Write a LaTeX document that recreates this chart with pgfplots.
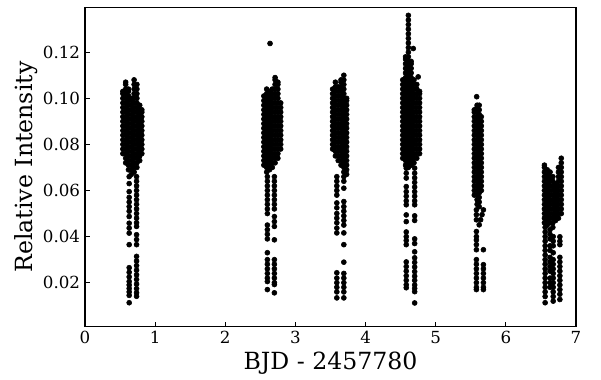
\documentclass[border=0pt]{standalone}
\usepackage{pgfplots}
\pgfplotsset{compat=1.18}
\usepackage{fontspec}
\setmainfont{DejaVu Serif}
\pgfplotsset{dots/.style={only marks, mark=*, mark size=1.8pt, draw=black, fill=black, mark options={draw=black, fill=black}}}
\begin{document}
\begin{tikzpicture}
\begin{axis}[name=ax, scale only axis, width=353.52pt, height=229.97pt,
  xmin=0, xmax=7, ymin=0.0009, ymax=0.1395,
  xtick={0,1,2,3,4,5,6,7}, ytick={0.02,0.04,0.06,0.08,0.10,0.12},
  scaled y ticks=false,
  tick align=inside, tick pos=left, major tick length=3.5pt,
  axis line style={line width=0.8pt, black},
  every tick/.style={black, line width=0.8pt},
  /pgf/number format/assume math mode=true,
  yticklabel style={/pgf/number format/.cd, fixed, fixed zerofill, precision=2},
  ticklabel style={font=\fontsize{12}{14}\selectfont},
  xlabel={BJD - 2457780}, ylabel={Relative Intensity},
  label style={font=\fontsize{17}{20}\selectfont},
  xlabel style={at={(axis description cs:0.5,-0.113)}, anchor=center},
  ylabel style={at={(axis description cs:-0.12,0.5)}, anchor=center},
]
% cluster 1 core
\addplot[dots] coordinates {
(0.54,0.076)(0.54,0.078)(0.54,0.080)(0.54,0.082)(0.54,0.084)(0.54,0.086)(0.54,0.088)(0.54,0.090)(0.54,0.092)(0.54,0.094)(0.54,0.096)(0.54,0.098)(0.54,0.100)(0.54,0.102)(0.54,0.103)
(0.58,0.072)(0.58,0.074)(0.58,0.076)(0.58,0.078)(0.58,0.080)(0.58,0.082)(0.58,0.084)(0.58,0.086)(0.58,0.088)(0.58,0.090)(0.58,0.092)(0.58,0.094)(0.58,0.096)(0.58,0.098)(0.58,0.100)(0.58,0.102)(0.58,0.104)(0.58,0.106)(0.58,0.107)
(0.62,0.069)(0.62,0.071)(0.62,0.073)(0.62,0.075)(0.62,0.077)(0.62,0.079)(0.62,0.081)(0.62,0.083)(0.62,0.085)(0.62,0.087)(0.62,0.089)(0.62,0.091)(0.62,0.093)(0.62,0.095)(0.62,0.097)(0.62,0.099)(0.62,0.101)(0.62,0.103)(0.62,0.104)
(0.66,0.067)(0.66,0.069)(0.66,0.071)(0.66,0.073)(0.66,0.075)(0.66,0.077)(0.66,0.079)(0.66,0.081)(0.66,0.083)(0.66,0.085)(0.66,0.087)(0.66,0.089)(0.66,0.091)(0.66,0.093)(0.66,0.095)(0.66,0.097)(0.66,0.099)(0.66,0.100)
(0.70,0.068)(0.70,0.070)(0.70,0.072)(0.70,0.074)(0.70,0.076)(0.70,0.078)(0.70,0.080)(0.70,0.082)(0.70,0.084)(0.70,0.086)(0.70,0.088)(0.70,0.090)(0.70,0.092)(0.70,0.094)(0.70,0.096)(0.70,0.098)(0.70,0.100)(0.70,0.102)(0.70,0.104)(0.70,0.106)(0.70,0.108)
(0.74,0.070)(0.74,0.072)(0.74,0.074)(0.74,0.076)(0.74,0.078)(0.74,0.080)(0.74,0.082)(0.74,0.084)(0.74,0.086)(0.74,0.088)(0.74,0.090)(0.74,0.092)(0.74,0.094)(0.74,0.096)(0.74,0.098)(0.74,0.100)(0.74,0.102)(0.74,0.104)(0.74,0.106)
(0.78,0.073)(0.78,0.075)(0.78,0.077)(0.78,0.079)(0.78,0.081)(0.78,0.083)(0.78,0.085)(0.78,0.087)(0.78,0.089)(0.78,0.091)(0.78,0.093)(0.78,0.095)(0.78,0.097)
(0.81,0.076)(0.81,0.078)(0.81,0.080)(0.81,0.082)(0.81,0.084)(0.81,0.086)(0.81,0.088)(0.81,0.090)(0.81,0.092)(0.81,0.094)(0.81,0.095)
};
% cluster 1 sparse
\addplot[dots] coordinates {
(0.63,0.066)(0.63,0.063)(0.63,0.0595)(0.63,0.057)(0.63,0.055)(0.63,0.053)(0.63,0.051)(0.63,0.0487)(0.63,0.0458)(0.63,0.0437)(0.63,0.0415)(0.63,0.0365)(0.63,0.0265)(0.63,0.0245)(0.63,0.0225)(0.63,0.0205)(0.63,0.019)(0.63,0.0175)(0.63,0.016)(0.63,0.0145)(0.63,0.0113)
(0.735,0.066)(0.735,0.064)(0.735,0.062)(0.735,0.060)(0.735,0.058)(0.735,0.056)(0.735,0.054)(0.735,0.052)(0.735,0.050)(0.735,0.048)(0.735,0.046)(0.735,0.0444)(0.735,0.0408)(0.735,0.0387)(0.735,0.0365)(0.735,0.0314)(0.735,0.0294)(0.735,0.0274)(0.735,0.0254)(0.735,0.0234)(0.735,0.0214)(0.735,0.0194)(0.735,0.0174)(0.735,0.0156)(0.735,0.0141)
};
% cluster 2 core
\addplot[dots] coordinates {
(2.55,0.071)(2.55,0.073)(2.55,0.075)(2.55,0.077)(2.55,0.079)(2.55,0.081)(2.55,0.083)(2.55,0.085)(2.55,0.087)(2.55,0.089)(2.55,0.091)(2.55,0.093)(2.55,0.095)(2.55,0.097)(2.55,0.099)(2.55,0.101)
(2.59,0.068)(2.59,0.070)(2.59,0.072)(2.59,0.074)(2.59,0.076)(2.59,0.078)(2.59,0.080)(2.59,0.082)(2.59,0.084)(2.59,0.086)(2.59,0.088)(2.59,0.090)(2.59,0.092)(2.59,0.094)(2.59,0.096)(2.59,0.098)(2.59,0.100)(2.59,0.102)(2.59,0.104)
(2.63,0.069)(2.63,0.071)(2.63,0.073)(2.63,0.075)(2.63,0.077)(2.63,0.079)(2.63,0.081)(2.63,0.083)(2.63,0.085)(2.63,0.087)(2.63,0.089)(2.63,0.091)(2.63,0.093)(2.63,0.095)(2.63,0.097)(2.63,0.099)(2.63,0.101)(2.63,0.103)
(2.67,0.070)(2.67,0.072)(2.67,0.074)(2.67,0.076)(2.67,0.078)(2.67,0.080)(2.67,0.082)(2.67,0.084)(2.67,0.086)(2.67,0.088)(2.67,0.090)(2.67,0.092)(2.67,0.094)(2.67,0.096)(2.67,0.098)(2.67,0.100)(2.67,0.102)(2.67,0.104)
(2.71,0.072)(2.71,0.074)(2.71,0.076)(2.71,0.078)(2.71,0.080)(2.71,0.082)(2.71,0.084)(2.71,0.086)(2.71,0.088)(2.71,0.090)(2.71,0.092)(2.71,0.094)(2.71,0.096)(2.71,0.098)(2.71,0.100)(2.71,0.102)(2.71,0.104)(2.71,0.106)(2.71,0.108)(2.71,0.109)
(2.75,0.074)(2.75,0.076)(2.75,0.078)(2.75,0.080)(2.75,0.082)(2.75,0.084)(2.75,0.086)(2.75,0.088)(2.75,0.090)(2.75,0.092)(2.75,0.094)(2.75,0.096)(2.75,0.098)(2.75,0.100)(2.75,0.102)(2.75,0.104)(2.75,0.106)(2.75,0.107)
(2.79,0.078)(2.79,0.080)(2.79,0.082)(2.79,0.084)(2.79,0.086)(2.79,0.088)(2.79,0.090)(2.79,0.092)(2.79,0.094)(2.79,0.096)(2.79,0.098)
(2.638,0.1238)
};
% cluster 2 sparse
\addplot[dots] coordinates {
(2.60,0.066)(2.60,0.064)(2.60,0.062)(2.60,0.060)(2.60,0.058)(2.60,0.056)(2.60,0.054)(2.60,0.052)(2.60,0.050)(2.60,0.045)(2.60,0.043)(2.60,0.041)(2.60,0.039)(2.60,0.033)(2.60,0.030)(2.60,0.028)(2.60,0.026)(2.60,0.024)(2.60,0.022)(2.60,0.0205)(2.60,0.017)
(2.70,0.066)(2.70,0.064)(2.70,0.062)(2.70,0.060)(2.70,0.058)(2.70,0.056)(2.70,0.054)(2.70,0.052)(2.70,0.0487)(2.70,0.0465)(2.70,0.0444)(2.70,0.0386)(2.70,0.030)(2.70,0.028)(2.70,0.026)(2.70,0.024)(2.70,0.022)(2.70,0.020)(2.70,0.0192)(2.70,0.0156)
};
% cluster 3 core
\addplot[dots] coordinates {
(3.53,0.078)(3.53,0.080)(3.53,0.082)(3.53,0.084)(3.53,0.086)(3.53,0.088)(3.53,0.090)(3.53,0.092)(3.53,0.094)(3.53,0.096)(3.53,0.098)(3.53,0.100)(3.53,0.102)(3.53,0.104)
(3.57,0.075)(3.57,0.077)(3.57,0.079)(3.57,0.081)(3.57,0.083)(3.57,0.085)(3.57,0.087)(3.57,0.089)(3.57,0.091)(3.57,0.093)(3.57,0.095)(3.57,0.097)(3.57,0.099)(3.57,0.101)(3.57,0.103)(3.57,0.105)(3.57,0.107)
(3.61,0.073)(3.61,0.075)(3.61,0.077)(3.61,0.079)(3.61,0.081)(3.61,0.083)(3.61,0.085)(3.61,0.087)(3.61,0.089)(3.61,0.091)(3.61,0.093)(3.61,0.095)(3.61,0.097)(3.61,0.099)(3.61,0.101)(3.61,0.103)(3.61,0.105)
(3.65,0.071)(3.65,0.073)(3.65,0.075)(3.65,0.077)(3.65,0.079)(3.65,0.081)(3.65,0.083)(3.65,0.085)(3.65,0.087)(3.65,0.089)(3.65,0.091)(3.65,0.093)(3.65,0.095)(3.65,0.097)(3.65,0.099)(3.65,0.101)(3.65,0.103)(3.65,0.105)(3.65,0.107)(3.65,0.108)
(3.69,0.068)(3.69,0.070)(3.69,0.072)(3.69,0.074)(3.69,0.076)(3.69,0.078)(3.69,0.080)(3.69,0.082)(3.69,0.084)(3.69,0.086)(3.69,0.088)(3.69,0.090)(3.69,0.092)(3.69,0.094)(3.69,0.096)(3.69,0.098)(3.69,0.100)(3.69,0.102)(3.69,0.104)(3.69,0.106)(3.69,0.108)(3.69,0.110)
(3.73,0.067)(3.73,0.069)(3.73,0.071)(3.73,0.073)(3.73,0.075)(3.73,0.077)(3.73,0.079)(3.73,0.081)(3.73,0.083)(3.73,0.085)(3.73,0.087)(3.73,0.089)(3.73,0.091)(3.73,0.093)(3.73,0.095)(3.73,0.097)(3.73,0.099)(3.73,0.100)
};
% cluster 3 sparse
\addplot[dots] coordinates {
(3.59,0.066)(3.59,0.064)(3.59,0.062)(3.59,0.060)(3.59,0.058)(3.59,0.0546)(3.59,0.0525)(3.59,0.050)(3.59,0.048)(3.59,0.046)(3.59,0.0437)(3.59,0.0416)(3.59,0.0243)(3.59,0.022)(3.59,0.020)(3.59,0.018)(3.59,0.016)(3.59,0.0134)
(3.69,0.066)(3.69,0.064)(3.69,0.061)(3.69,0.0552)(3.69,0.053)(3.69,0.051)(3.69,0.049)(3.69,0.047)(3.69,0.045)(3.69,0.0416)(3.69,0.0365)(3.69,0.0289)(3.69,0.024)(3.69,0.022)(3.69,0.020)(3.69,0.018)(3.69,0.016)(3.69,0.0134)
};
% cluster 4 core
\addplot[dots] coordinates {
(4.53,0.074)(4.53,0.076)(4.53,0.078)(4.53,0.080)(4.53,0.082)(4.53,0.084)(4.53,0.086)(4.53,0.088)(4.53,0.090)(4.53,0.092)(4.53,0.094)(4.53,0.096)(4.53,0.098)(4.53,0.100)(4.53,0.102)(4.53,0.104)(4.53,0.106)(4.53,0.108)
(4.57,0.071)(4.57,0.073)(4.57,0.075)(4.57,0.077)(4.57,0.079)(4.57,0.081)(4.57,0.083)(4.57,0.085)(4.57,0.087)(4.57,0.089)(4.57,0.091)(4.57,0.093)(4.57,0.095)(4.57,0.097)(4.57,0.099)(4.57,0.101)(4.57,0.103)(4.57,0.105)(4.57,0.107)(4.57,0.109)(4.57,0.111)(4.57,0.113)(4.57,0.115)(4.57,0.117)(4.57,0.118)
(4.61,0.070)(4.61,0.072)(4.61,0.074)(4.61,0.076)(4.61,0.078)(4.61,0.080)(4.61,0.082)(4.61,0.084)(4.61,0.086)(4.61,0.088)(4.61,0.090)(4.61,0.092)(4.61,0.094)(4.61,0.096)(4.61,0.098)(4.61,0.100)(4.61,0.102)(4.61,0.104)(4.61,0.106)(4.61,0.108)(4.61,0.110)(4.61,0.112)(4.61,0.114)(4.61,0.116)(4.61,0.118)(4.61,0.120)
(4.65,0.071)(4.65,0.073)(4.65,0.075)(4.65,0.077)(4.65,0.079)(4.65,0.081)(4.65,0.083)(4.65,0.085)(4.65,0.087)(4.65,0.089)(4.65,0.091)(4.65,0.093)(4.65,0.095)(4.65,0.097)(4.65,0.099)(4.65,0.101)(4.65,0.103)(4.65,0.105)(4.65,0.107)(4.65,0.109)(4.65,0.111)(4.65,0.113)(4.65,0.115)(4.65,0.116)
(4.69,0.072)(4.69,0.074)(4.69,0.076)(4.69,0.078)(4.69,0.080)(4.69,0.082)(4.69,0.084)(4.69,0.086)(4.69,0.088)(4.69,0.090)(4.69,0.092)(4.69,0.094)(4.69,0.096)(4.69,0.098)(4.69,0.100)(4.69,0.102)(4.69,0.104)(4.69,0.106)(4.69,0.108)
(4.73,0.074)(4.73,0.076)(4.73,0.078)(4.73,0.080)(4.73,0.082)(4.73,0.084)(4.73,0.086)(4.73,0.088)(4.73,0.090)(4.73,0.092)(4.73,0.094)(4.73,0.096)(4.73,0.098)(4.73,0.100)(4.73,0.102)(4.73,0.104)(4.73,0.106)
(4.77,0.076)(4.77,0.078)(4.77,0.080)(4.77,0.082)(4.77,0.084)(4.77,0.086)(4.77,0.088)(4.77,0.090)(4.77,0.092)(4.77,0.094)(4.77,0.096)(4.77,0.098)(4.77,0.100)(4.77,0.102)(4.77,0.103)
(4.61,0.122)(4.61,0.124)(4.61,0.126)(4.61,0.128)(4.61,0.130)(4.61,0.132)(4.61,0.134)(4.61,0.136)
(4.68,0.1216)(4.75,0.1093)
};
% cluster 4 sparse
\addplot[dots] coordinates {
(4.58,0.0697)(4.58,0.0675)(4.58,0.0654)(4.58,0.0617)(4.58,0.0595)(4.58,0.0575)(4.58,0.0555)(4.58,0.0538)(4.58,0.0494)(4.58,0.0465)(4.58,0.042)(4.58,0.040)(4.58,0.0383)(4.58,0.0365)(4.58,0.029)(4.58,0.027)(4.58,0.025)(4.58,0.023)(4.58,0.021)(4.58,0.0191)(4.58,0.0178)
(4.70,0.0697)(4.70,0.0675)(4.70,0.0655)(4.70,0.0635)(4.70,0.0615)(4.70,0.0595)(4.70,0.0575)(4.70,0.0555)(4.70,0.0538)(4.70,0.049)(4.70,0.047)(4.70,0.039)(4.70,0.037)(4.70,0.0334)(4.70,0.0308)(4.70,0.0288)(4.70,0.0268)(4.70,0.0248)(4.70,0.0228)(4.70,0.021)(4.70,0.019)(4.70,0.0175)(4.70,0.0161)(4.70,0.0112)
};
% cluster 5 core
\addplot[dots] coordinates {
(5.55,0.058)(5.55,0.060)(5.55,0.062)(5.55,0.064)(5.55,0.066)(5.55,0.068)(5.55,0.070)(5.55,0.072)(5.55,0.074)(5.55,0.076)(5.55,0.078)(5.55,0.080)(5.55,0.082)(5.55,0.084)(5.55,0.086)(5.55,0.088)(5.55,0.090)(5.55,0.092)(5.55,0.094)(5.55,0.095)
(5.59,0.054)(5.59,0.056)(5.59,0.058)(5.59,0.060)(5.59,0.062)(5.59,0.064)(5.59,0.066)(5.59,0.068)(5.59,0.070)(5.59,0.072)(5.59,0.074)(5.59,0.076)(5.59,0.078)(5.59,0.080)(5.59,0.082)(5.59,0.084)(5.59,0.086)(5.59,0.088)(5.59,0.090)(5.59,0.092)(5.59,0.094)(5.59,0.096)(5.59,0.097)
(5.62,0.053)(5.62,0.055)(5.62,0.057)(5.62,0.059)(5.62,0.061)(5.62,0.063)(5.62,0.065)(5.62,0.067)(5.62,0.069)(5.62,0.071)(5.62,0.073)(5.62,0.075)(5.62,0.077)(5.62,0.079)(5.62,0.081)(5.62,0.083)(5.62,0.085)(5.62,0.087)(5.62,0.089)(5.62,0.091)(5.62,0.093)(5.62,0.095)(5.62,0.097)
(5.65,0.060)(5.65,0.062)(5.65,0.064)(5.65,0.066)(5.65,0.068)(5.65,0.070)(5.65,0.072)(5.65,0.074)(5.65,0.076)(5.65,0.078)(5.65,0.080)(5.65,0.082)(5.65,0.084)(5.65,0.086)(5.65,0.088)(5.65,0.090)(5.65,0.092)
(5.584,0.1007)
};
% cluster 5 sparse
\addplot[dots] coordinates {
(5.58,0.0516)(5.58,0.0495)(5.58,0.0473)(5.58,0.0422)(5.58,0.040)(5.58,0.0385)(5.58,0.0365)(5.58,0.0343)(5.58,0.030)(5.58,0.028)(5.58,0.026)(5.58,0.024)(5.58,0.022)(5.58,0.020)(5.58,0.018)(5.58,0.017)
(5.68,0.0516)(5.66,0.0495)(5.64,0.0473)(5.62,0.0451)(5.68,0.0343)(5.68,0.0278)(5.68,0.026)(5.68,0.024)(5.68,0.022)(5.68,0.020)(5.68,0.018)(5.68,0.017)
};
% cluster 6 core
\addplot[dots] coordinates {
(6.55,0.046)(6.55,0.048)(6.55,0.050)(6.55,0.052)(6.55,0.054)(6.55,0.056)(6.55,0.058)(6.55,0.060)(6.55,0.062)(6.55,0.064)(6.55,0.066)(6.55,0.068)(6.55,0.070)(6.55,0.071)
(6.59,0.045)(6.59,0.047)(6.59,0.049)(6.59,0.051)(6.59,0.053)(6.59,0.055)(6.59,0.057)(6.59,0.059)(6.59,0.061)(6.59,0.063)(6.59,0.065)(6.59,0.067)(6.59,0.069)
(6.63,0.046)(6.63,0.048)(6.63,0.050)(6.63,0.052)(6.63,0.054)(6.63,0.056)(6.63,0.058)(6.63,0.060)(6.63,0.062)(6.63,0.064)(6.63,0.066)(6.63,0.068)
(6.67,0.044)(6.67,0.046)(6.67,0.048)(6.67,0.050)(6.67,0.052)(6.67,0.054)(6.67,0.056)(6.67,0.058)(6.67,0.060)(6.67,0.062)(6.67,0.064)(6.67,0.066)
(6.71,0.047)(6.71,0.049)(6.71,0.051)(6.71,0.053)(6.71,0.055)(6.71,0.057)(6.71,0.059)(6.71,0.061)(6.71,0.063)
(6.75,0.048)(6.75,0.050)(6.75,0.052)(6.75,0.054)(6.75,0.056)(6.75,0.058)(6.75,0.060)(6.75,0.062)(6.75,0.064)(6.75,0.066)(6.75,0.068)(6.75,0.070)
(6.79,0.050)(6.79,0.052)(6.79,0.054)(6.79,0.056)(6.79,0.058)(6.79,0.060)(6.79,0.062)(6.79,0.064)(6.79,0.066)(6.79,0.068)(6.79,0.070)(6.79,0.072)(6.79,0.074)
};
% cluster 6 sparse
\addplot[dots] coordinates {
(6.56,0.044)(6.56,0.042)(6.56,0.040)(6.56,0.038)(6.56,0.036)(6.56,0.034)(6.56,0.032)(6.56,0.030)(6.56,0.028)(6.56,0.026)(6.56,0.024)(6.56,0.022)(6.56,0.020)(6.56,0.018)(6.56,0.016)(6.56,0.014)(6.56,0.0113)
(6.63,0.043)(6.63,0.041)(6.63,0.039)(6.63,0.036)(6.63,0.034)(6.63,0.031)(6.63,0.029)(6.63,0.027)(6.63,0.025)(6.63,0.022)(6.63,0.020)(6.63,0.018)
(6.675,0.040)(6.675,0.038)(6.675,0.036)(6.675,0.033)(6.675,0.030)(6.675,0.028)(6.675,0.026)(6.675,0.024)(6.675,0.022)(6.675,0.020)(6.675,0.018)(6.675,0.016)(6.675,0.014)(6.675,0.012)
(6.77,0.0399)(6.77,0.038)(6.77,0.0365)(6.77,0.031)(6.77,0.029)(6.77,0.027)(6.77,0.025)(6.77,0.023)(6.77,0.021)(6.77,0.019)(6.77,0.017)(6.77,0.015)(6.77,0.0127)
};
\end{axis}
\pgfresetboundingbox
\path[use as bounding box] ([xshift=-61.2pt,yshift=-37.66pt]ax.south west) rectangle ([xshift=371.52pt,yshift=235.22pt]ax.south west);
\end{tikzpicture}
\end{document}
